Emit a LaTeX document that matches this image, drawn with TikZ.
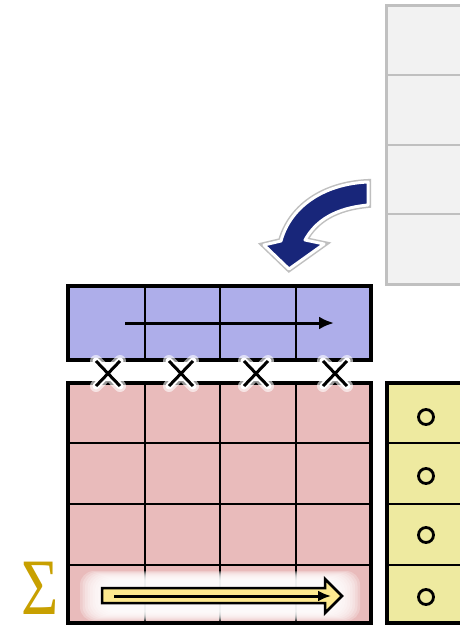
\documentclass[tikz,border=0pt]{standalone}
\usepackage{fontspec}
\newfontfamily\sigmafont{Liberation Serif}
\usetikzlibrary{arrows.meta,positioning,calc}
\definecolor{qblue}{RGB}{174,174,234}
\definecolor{kpink}{RGB}{233,187,187}
\definecolor{vyellow}{RGB}{238,234,160}
\definecolor{ggray}{RGB}{242,242,242}
\definecolor{gline}{RGB}{192,192,192}
\definecolor{navy}{RGB}{24,38,122}
\definecolor{sgold}{RGB}{200,160,0}
\definecolor{ayellow}{RGB}{253,233,143}

\begin{document}
\begin{tikzpicture}[x=1pt, y=-1pt,
  gridline/.style={line width=2.5pt},
  frameline/.style={line width=4pt},
  glowline/.style={white, line width=12pt, line cap=round, opacity=0.6}]
  \useasboundingbox (0,0) rectangle (459,627);
  \fill[white] (0,0) rectangle (459,627);
  % gray column on the right
  \fill[ggray] (386,5) rectangle (461,284);
  \foreach \y in {75,145,214} \draw[gline, line width=2.5pt] (386,\y) -- (461,\y);
  \draw[gline, line width=3pt] (461,5) -- (386,5) -- (386,284) -- (461,284);
  % curved arrow
  \path[fill=navy, draw=white, line width=3pt, line join=round,
        preaction={draw=gray!50, line width=6pt}]
    (368,182) .. controls (322,184) and (290,208) .. (281,241) -- (264,245)
    -- (289,269) -- (324,244) -- (305,240)
    .. controls (316,220) and (336,208) .. (368,205) -- cycle;
  % blue row
  \fill[qblue] (68,286) rectangle (371,360);
  \foreach \x in {145,220,296} \draw[gridline] (\x,286) -- (\x,360);
  \draw[frameline] (68,286) rectangle (371,360);
  \coordinate (qs) at (125,323);
  \coordinate (qe) at (334,323);
  \draw[line width=3pt, -{Latex[length=15pt,width=13pt]}] (qs) -- (qe);
  % pink grid
  \fill[kpink] (68,383) rectangle (371,623);
  \foreach \x in {145,220,296} \draw[gridline] (\x,383) -- (\x,623);
  \foreach \y in {443,504,565} \draw[gridline] (68,\y) -- (371,\y);
  % glow in the last row
  \foreach \i in {0,...,9}
    \fill[white, opacity=0.25, rounded corners=14pt] (80+2.5*\i,571+\i) rectangle (360-2.5*\i,621-\i);
  \draw[frameline] (68,383) rectangle (371,623);
  % crosses
  \foreach \x in {108,181,256,335} {
    \draw[glowline] (\x-12,361) -- (\x+12,386) (\x-12,386) -- (\x+12,361);
    \draw[white, line width=7pt, line cap=round] (\x-12,361) -- (\x+12,386) (\x-12,386) -- (\x+12,361);
    \draw[line width=3pt] (\x-12,361) -- (\x+12,386) (\x-12,386) -- (\x+12,361);
  }
  % yellow arrow
  \draw[fill=ayellow, line width=2.5pt, line join=miter]
    (102,588) -- (325,588) -- (325,579) -- (342,596) -- (325,613) -- (325,603) -- (102,603) -- cycle;
  \coordinate (ss) at (114,596);
  \coordinate (se) at (331,596);
  \draw[line width=3pt, -{Latex[length=13pt,width=11pt]}] (ss) -- (se);
  % sigma
  \node[text=sgold, font=\sigmafont\fontsize{80}{80}\selectfont, xscale=0.8, inner sep=0pt] (sum) at (40,588) {Σ};
  % yellow column
  \fill[vyellow] (387,383) rectangle (461,623);
  \foreach \y in {443,504,565} \draw[gridline] (387,\y) -- (461,\y);
  \draw[frameline] (461,383) -- (387,383) -- (387,623) -- (461,623);
  \foreach \y in {417,476,535,597} \draw[line width=2.8pt] (426,\y) circle (7.5);
\end{tikzpicture}
\end{document}
